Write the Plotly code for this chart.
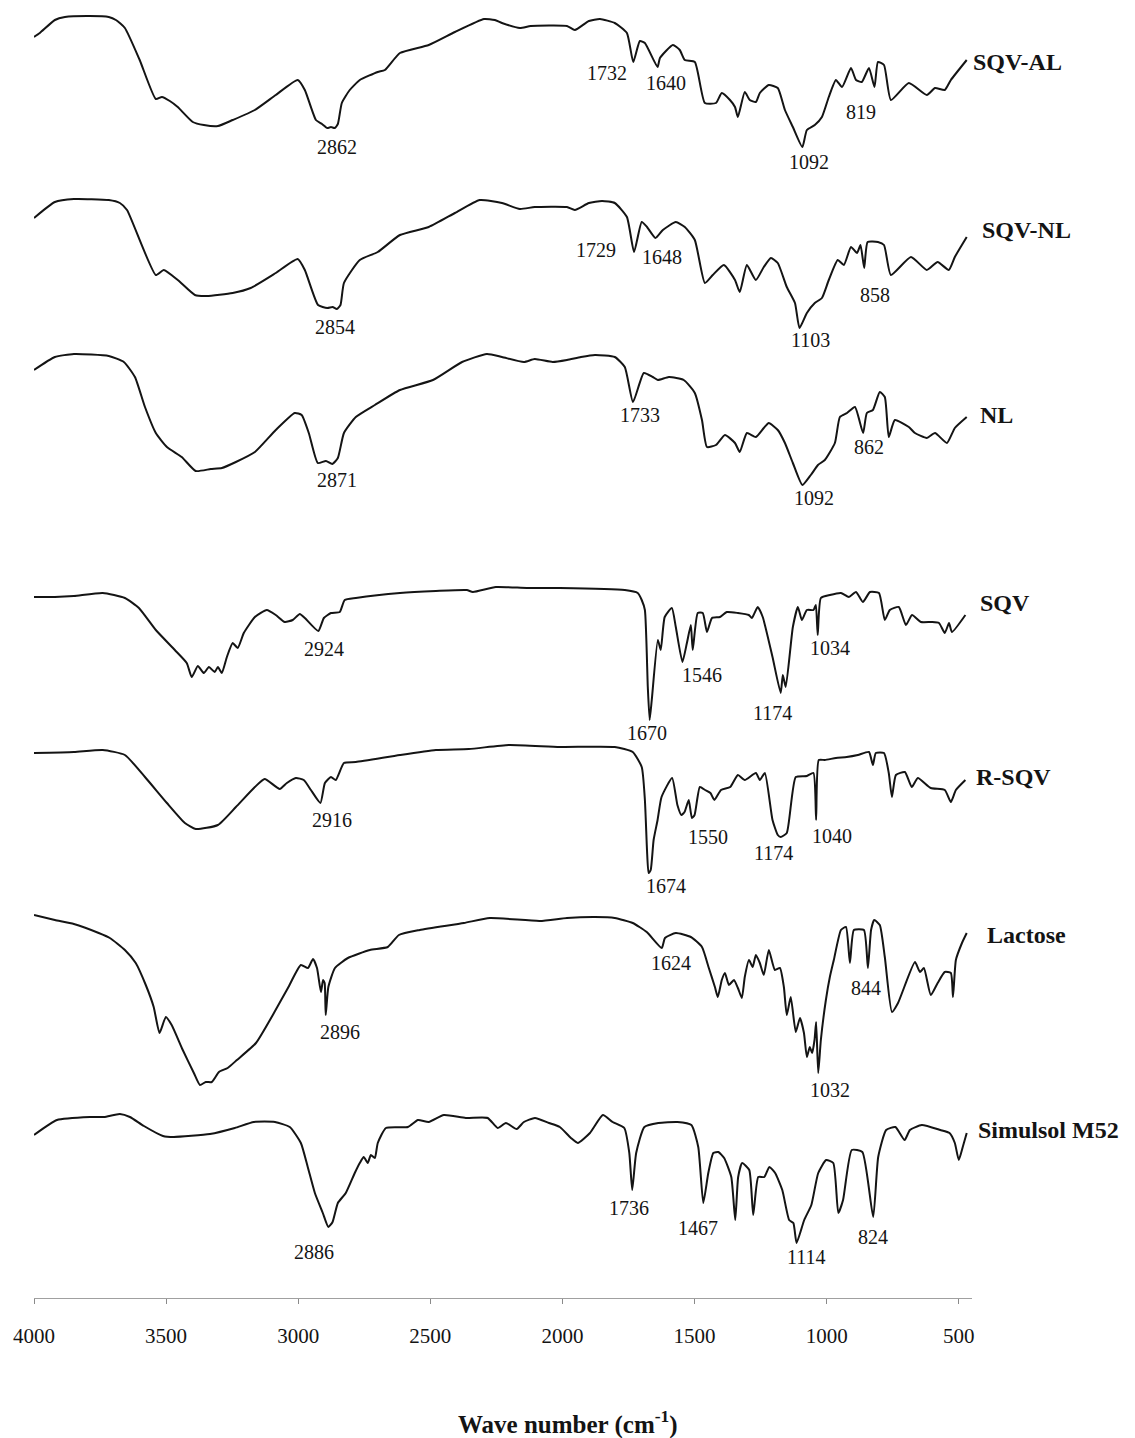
import plotly.graph_objects as go

# ---------------------------------------------------------------------------
# FTIR spectra: wavenumber (cm-1) and relative transmittance (a.u.)
# ---------------------------------------------------------------------------
WN_SQV_AL = [4000, 3978, 3921, 3883, 3789, 3717, 3690, 3656, 3600, 3539, 3516, 3486, 3456, 3399, 3357,
             3304, 3248, 3164, 3085, 3002, 2975, 2933, 2910, 2890, 2876, 2862, 2850, 2835, 2805, 2767,
             2699, 2672, 2615, 2506, 2407, 2297, 2256, 2229, 2161, 2120, 1983, 1953, 1900, 1858, 1802,
             1756, 1732, 1707, 1688, 1640, 1631, 1582, 1556, 1537, 1499, 1461, 1419, 1397, 1366, 1347,
             1336, 1310, 1291, 1268, 1253, 1219, 1185, 1158, 1128, 1092, 1075, 1045, 1018, 992, 965,
             942, 908, 889, 867, 840, 819, 806, 783, 757, 689, 621, 590, 553, 530, 470]
T_SQV_AL = [123, 127, 140, 143, 144, 143, 140, 132, 100, 61, 63, 59, 53, 38, 35,
            34, 40, 50, 65, 80, 70, 40, 36, 32, 33, 32, 36, 57, 70, 80,
            88, 90, 107, 115, 128, 141, 140, 137, 132, 134, 134, 130, 139, 141, 137,
            127, 98, 119, 117, 93, 102, 115, 110, 100, 98, 57, 57, 67, 60, 53,
            43, 68, 60, 58, 67, 75, 72, 50, 33, 13, 30, 35, 43, 63, 80,
            73, 92, 80, 78, 92, 73, 98, 95, 60, 77, 65, 72, 70, 80, 100]

WN_SQV_NL = [4000, 3921, 3849, 3717, 3675, 3648, 3539, 3509, 3456, 3391, 3346, 3248, 3180, 3085, 3002,
             2975, 2925, 2890, 2870, 2854, 2840, 2827, 2767, 2699, 2615, 2506, 2407, 2313, 2229, 2161,
             2105, 1983, 1953, 1900, 1850, 1802, 1756, 1729, 1700, 1680, 1648, 1620, 1571, 1537, 1499,
             1461, 1431, 1389, 1347, 1329, 1302, 1268, 1238, 1211, 1185, 1151, 1120, 1103, 1075, 1045,
             1018, 992, 958, 935, 908, 885, 872, 858, 845, 806, 783, 757, 681, 621, 580,
             538, 515, 470]
T_SQV_NL = [112, 128, 131, 130, 127, 120, 55, 60, 50, 35, 34, 37, 42, 57, 71,
            60, 25, 22, 23, 21, 25, 47, 70, 78, 95, 103, 117, 130, 127, 121,
            123, 123, 120, 127, 129, 127, 113, 78, 108, 103, 92, 100, 108, 103, 90,
            47, 55, 65, 50, 38, 65, 50, 63, 72, 67, 43, 27, 2, 17, 27,
            32, 50, 70, 65, 83, 77, 85, 62, 88, 88, 85, 55, 73, 60, 68,
            60, 73, 93]

WN_NL = [4000, 3921, 3849, 3717, 3660, 3618, 3580, 3539, 3497, 3441, 3388, 3331, 3289, 3236, 3164,
         3085, 3013, 2987, 2960, 2926, 2895, 2871, 2850, 2827, 2782, 2710, 2615, 2490, 2380, 2286,
         2229, 2146, 2105, 2037, 1983, 1930, 1877, 1802, 1764, 1733, 1692, 1658, 1639, 1597, 1541,
         1499, 1472, 1453, 1419, 1385, 1347, 1329, 1302, 1268, 1238, 1219, 1185, 1158, 1128, 1092,
         1060, 1033, 1007, 969, 950, 923, 893, 862, 848, 825, 799, 780, 765, 742, 689,
         666, 621, 590, 545, 515, 470]
T_NL = [130, 143, 146, 144, 138, 123, 93, 67, 53, 43, 29, 31, 32, 38, 48,
        70, 87, 85, 67, 37, 39, 36, 42, 67, 83, 95, 110, 120, 138, 146,
        143, 138, 141, 138, 140, 143, 145, 143, 133, 98, 127, 123, 120, 123, 120,
        107, 80, 53, 55, 65, 57, 48, 67, 63, 72, 77, 70, 57, 37, 15,
        25, 35, 40, 57, 83, 87, 93, 67, 87, 90, 108, 103, 63, 80, 73,
        67, 62, 67, 57, 72, 83]

WN_SQV = [4000, 3921, 3849, 3740, 3656, 3603, 3539, 3467, 3422, 3403, 3380, 3357, 3338, 3316, 3304,
          3289, 3270, 3248, 3229, 3206, 3164, 3119, 3085, 3051, 3021, 2994, 2975, 2924, 2903, 2876,
          2843, 2824, 2782, 2615, 2479, 2362, 2339, 2252, 2135, 2010, 1764, 1715, 1700, 1688, 1677,
          1670, 1662, 1639, 1628, 1613, 1586, 1571, 1546, 1529, 1514, 1507, 1488, 1469, 1453, 1434,
          1404, 1378, 1336, 1295, 1283, 1261, 1242, 1205, 1174, 1166, 1155, 1128, 1109, 1094, 1075,
          1050, 1041, 1034, 1022, 988, 946, 916, 889, 863, 836, 802, 780, 761, 727, 700,
          677, 643, 602, 575, 553, 537, 526, 475]
T_SQV = [143, 143, 144, 147, 142, 132, 110, 90, 77, 63, 74, 67, 73, 68, 73,
         67, 83, 97, 92, 107, 123, 130, 125, 118, 120, 126, 122, 109, 122, 127,
         128, 140, 142, 147, 149, 150, 148, 153, 152, 152, 150, 147, 140, 130, 53,
         20, 40, 100, 90, 123, 132, 113, 78, 97, 115, 90, 127, 127, 108, 122,
         123, 128, 127, 125, 122, 133, 123, 83, 47, 65, 53, 113, 133, 120, 130,
         130, 135, 105, 142, 145, 147, 143, 148, 138, 148, 147, 120, 130, 133, 115,
         125, 118, 118, 117, 107, 117, 108, 125]

WN_R_SQV = [4000, 3849, 3740, 3656, 3580, 3497, 3429, 3388, 3304, 3236, 3164, 3127, 3070, 3043, 3009,
            2979, 2952, 2916, 2899, 2876, 2858, 2827, 2782, 2615, 2479, 2354, 2203, 2010, 1802, 1734,
            1700, 1688, 1680, 1674, 1666, 1655, 1640, 1625, 1585, 1565, 1550, 1538, 1522, 1510, 1500,
            1480, 1460, 1440, 1425, 1400, 1365, 1336, 1310, 1268, 1253, 1234, 1205, 1185, 1174, 1151,
            1117, 1075, 1050, 1040, 1030, 1007, 965, 924, 882, 840, 825, 814, 783, 765, 753,
            738, 704, 678, 655, 606, 553, 530, 511, 475]
T_R_SQV = [147, 148, 150, 145, 123, 97, 77, 71, 75, 93, 113, 121, 111, 117, 122,
           120, 110, 97, 117, 123, 120, 137, 138, 145, 150, 151, 155, 153, 153, 148,
           133, 100, 50, 27, 30, 60, 80, 103, 122, 95, 85, 88, 100, 82, 85,
           113, 110, 107, 100, 110, 113, 125, 120, 127, 120, 127, 80, 65, 63, 67,
           123, 124, 127, 80, 140, 140, 142, 143, 145, 148, 135, 147, 147, 127, 103,
           125, 128, 113, 122, 112, 110, 98, 110, 120]

WN_LACTOSE = [4000, 3921, 3849, 3755, 3713, 3656, 3615, 3577, 3547, 3525, 3501, 3479, 3437, 3395, 3372,
              3350, 3327, 3300, 3267, 3232, 3160, 3092, 3039, 2990, 2963, 2944, 2929, 2914, 2906, 2900,
              2896, 2886, 2861, 2812, 2729, 2661, 2619, 2540, 2373, 2275, 2086, 1983, 1877, 1802, 1734,
              1681, 1624, 1612, 1571, 1514, 1472, 1446, 1423, 1412, 1397, 1385, 1370, 1351, 1336, 1321,
              1310, 1294, 1280, 1268, 1253, 1238, 1219, 1196, 1177, 1162, 1151, 1136, 1117, 1101, 1086,
              1075, 1064, 1055, 1046, 1040, 1032, 1022, 1003, 988, 973, 946, 927, 912, 897, 859,
              844, 832, 820, 799, 780, 753, 730, 666, 647, 632, 606, 580, 553, 530, 522,
              511, 488, 470]
T_LACTOSE = [175, 170, 166, 157, 152, 140, 127, 105, 83, 57, 73, 65, 40, 17, 5,
             8, 8, 18, 22, 30, 47, 77, 102, 125, 122, 131, 122, 98, 110, 107,
             75, 103, 122, 132, 140, 143, 155, 160, 167, 172, 169, 172, 173, 172, 167,
             158, 142, 152, 157, 153, 143, 122, 103, 93, 110, 117, 105, 110, 102, 92,
             113, 130, 123, 135, 127, 115, 140, 120, 122, 103, 75, 93, 58, 72, 57,
             33, 43, 37, 50, 68, 17, 50, 90, 113, 130, 160, 163, 127, 160, 160,
             122, 160, 170, 165, 133, 78, 87, 128, 118, 122, 95, 107, 118, 117, 93,
             130, 147, 157]

WN_SIMULSOL = [4000, 3913, 3788, 3735, 3675, 3637, 3584, 3512, 3471, 3334, 3240, 3168, 3088, 3032, 2990,
               2964, 2937, 2907, 2886, 2870, 2850, 2820, 2786, 2767, 2752, 2737, 2725, 2710, 2699, 2668,
               2585, 2547, 2506, 2449, 2366, 2283, 2245, 2214, 2173, 2146, 2104, 2051, 2010, 1968, 1942,
               1896, 1847, 1810, 1766, 1747, 1736, 1721, 1690, 1637, 1565, 1512, 1486, 1467, 1448, 1429,
               1410, 1388, 1361, 1346, 1335, 1320, 1293, 1278, 1259, 1236, 1217, 1195, 1168, 1142, 1126,
               1114, 1085, 1058, 1032, 1002, 975, 956, 938, 905, 865, 824, 805, 775, 740, 705,
               685, 640, 570, 535, 515, 500, 485, 470]
T_SIMULSOL = [125, 140, 143, 143, 146, 143, 134, 124, 123, 126, 132, 138, 138, 133, 117,
              93, 67, 47, 33, 38, 57, 67, 87, 97, 103, 97, 105, 102, 117, 132,
              133, 140, 138, 145, 142, 142, 132, 137, 131, 138, 142, 137, 133, 122, 117,
              127, 145, 138, 132, 107, 70, 107, 133, 137, 138, 135, 113, 57, 87, 107,
              108, 102, 83, 40, 83, 97, 90, 45, 83, 83, 93, 87, 70, 40, 37,
              17, 40, 55, 87, 100, 97, 47, 60, 110, 108, 43, 103, 130, 133, 120,
              130, 135, 130, 127, 117, 100, 113, 127]

SAMPLES = ["SQV-AL", "SQV-NL", "NL", "SQV", "R-SQV", "Lactose", "Simulsol M52"]
WAVENUMBERS = [WN_SQV_AL, WN_SQV_NL, WN_NL, WN_SQV, WN_R_SQV, WN_LACTOSE, WN_SIMULSOL]
TRANSMITTANCE = [T_SQV_AL, T_SQV_NL, T_NL, T_SQV, T_R_SQV, T_LACTOSE, T_SIMULSOL]

# Assigned band positions (cm-1) for each sample
PEAKS = {
    "SQV-AL": [2862, 1732, 1640, 1092, 819],
    "SQV-NL": [2854, 1729, 1648, 1103, 858],
    "NL": [2871, 1733, 1092, 862],
    "SQV": [2924, 1670, 1546, 1174, 1034],
    "R-SQV": [2916, 1674, 1550, 1174, 1040],
    "Lactose": [2896, 1624, 1032, 844],
    "Simulsol M52": [2886, 1736, 1467, 1114, 824],
}

TICK_VALUES = [4000, 3500, 3000, 2500, 2000, 1500, 1000, 500]

# ---------------------------------------------------------------------------
# Presentation settings
# ---------------------------------------------------------------------------
# vertical offset of each spectrum in the stack
STACK_OFFSET = {"SQV-AL": 1138, "SQV-NL": 968, "NL": 798, "SQV": 558,
                "R-SQV": 398, "Lactose": 208, "Simulsol M52": 38}
# pixel nudges (dx, dy) of every band label relative to its band minimum
PEAK_NUDGE = {
    "SQV-AL": [(2, -19), (-26, -11), (8, -16), (7, -15), (-14, -25)],
    "SQV-NL": [(-2, -18), (-38, 2), (7, -19), (11, -12), (11, -27)],
    "NL": [(5, -16), (7, -13), (12, -13), (6, -14)],
    "SQV": [(6, -18), (-3, -13), (20, -13), (-8, -20), (12, -13)],
    "R-SQV": [(12, -17), (17, -13), (27, -22), (-7, -16), (16, -16)],
    "Lactose": [(14, -17), (9, -15), (12, -17), (-2, -20)],
    "Simulsol M52": [(-14, -25), (-3, -18), (-5, -25), (10, -14), (0, -20)],
}
# pixel nudges (dx, dy) of sample names relative to the end of each spectrum
NAME_NUDGE = {"SQV-AL": (4, -2), "SQV-NL": (13, 7), "NL": (11, 2), "SQV": (13, 12),
              "R-SQV": (9, 3), "Lactose": (18, -2), "Simulsol M52": (9, 3)}

SERIF = "Liberation Serif, Times New Roman, serif"
INK = "#141414"

fig = go.Figure()
annotations = []

for name, wn, t in zip(SAMPLES, WAVENUMBERS, TRANSMITTANCE):
    assert len(wn) == len(t), name
    off = STACK_OFFSET[name]
    y = [off + v for v in t]
    fig.add_trace(go.Scatter(x=wn, y=y, mode="lines", name=name,
                             line=dict(color=INK, width=2, shape="spline", smoothing=0.5),
                             showlegend=False, hoverinfo="skip"))
    # band labels, anchored at the band minimum
    for peak, (dx, dy) in zip(PEAKS[name], PEAK_NUDGE[name]):
        idx = wn.index(peak)
        annotations.append(dict(x=peak, y=y[idx], xref="x", yref="y", text=str(peak),
                                showarrow=False, xanchor="center", yanchor="middle",
                                xshift=dx, yshift=dy,
                                font=dict(family=SERIF, size=20, color=INK)))
    # sample name at the end of the spectrum
    dx, dy = NAME_NUDGE[name]
    annotations.append(dict(x=wn[-1], y=y[-1], xref="x", yref="y", text=f"<b>{name}</b>",
                            showarrow=False, xanchor="left", yanchor="middle",
                            xshift=dx, yshift=dy,
                            font=dict(family=SERIF, size=24, color=INK)))

annotations.append(dict(x=0.569, y=-0.0963, xref="paper", yref="paper",
                        text="<b>Wave number (cm<sup>-1</sup>)</b>", showarrow=False,
                        xanchor="center", yanchor="middle",
                        font=dict(family=SERIF, size=25, color=INK)))

fig.update_layout(
    width=1135, height=1438,
    margin=dict(l=34, r=163, t=0, b=140),
    paper_bgcolor="white", plot_bgcolor="white",
    annotations=annotations,
    xaxis=dict(range=[4000, 450], tickvals=TICK_VALUES,
               ticktext=[str(v) for v in TICK_VALUES],
               showgrid=False, zeroline=False, showline=True,
               linecolor="#a0a0a0", linewidth=1,
               ticks="outside", ticklen=5, tickcolor="#8a8a8a", tickwidth=1,
               ticklabelstandoff=14,
               tickfont=dict(family=SERIF, size=21, color=INK)),
    yaxis=dict(range=[0, 1298], visible=False, fixedrange=True),
)

fig.write_html("out.html")
